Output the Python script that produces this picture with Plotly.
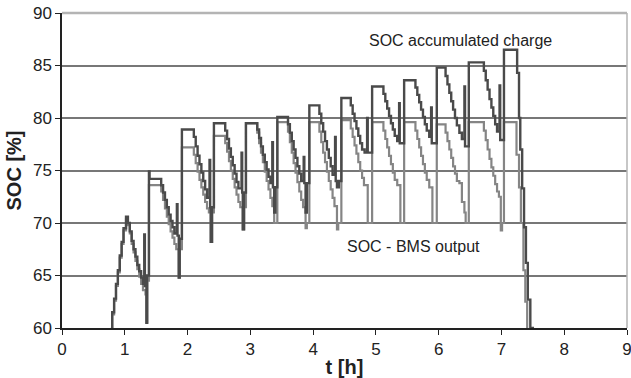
import plotly.graph_objects as go

# ---- data (vertices of stepped lines, 'hv' shape) ----
t_acc = [0.78, 0.80, 0.83, 0.86, 0.89, 0.92, 0.95, 0.98, 1.02,
         1.05, 1.08, 1.11, 1.14, 1.17, 1.20, 1.23, 1.26, 1.29, 1.31, 1.32, 1.345, 1.355,
         1.385, 1.395,
         1.58, 1.61, 1.64, 1.67, 1.70, 1.73, 1.76, 1.79, 1.83, 1.84, 1.86, 1.875,
         1.91,
         2.10, 2.13, 2.16, 2.19, 2.22, 2.25, 2.28, 2.31, 2.35, 2.36, 2.37, 2.39,
         2.42,
         2.60, 2.63, 2.66, 2.69, 2.72, 2.75, 2.78, 2.81, 2.86, 2.87, 2.88, 2.90,
         2.93,
         3.11, 3.14, 3.17, 3.20, 3.23, 3.26, 3.29, 3.32, 3.35, 3.36, 3.38, 3.40,
         3.43,
         3.60, 3.63, 3.66, 3.69, 3.72, 3.75, 3.78, 3.81, 3.85, 3.86, 3.88, 3.90,
         3.94,
         4.10, 4.13, 4.16, 4.19, 4.22, 4.25, 4.28, 4.31, 4.35, 4.36, 4.38, 4.41,
         4.45,
         4.60, 4.63, 4.66, 4.69, 4.72, 4.75, 4.78, 4.82, 4.86, 4.87,
         4.94,
         5.12, 5.15, 5.18, 5.21, 5.24, 5.27, 5.30, 5.34, 5.37, 5.38,
         5.45,
         5.63, 5.66, 5.69, 5.72, 5.75, 5.78, 5.81, 5.85, 5.88, 5.89,
         5.97,
         6.11, 6.14, 6.17, 6.20, 6.23, 6.26, 6.29, 6.33, 6.37, 6.41, 6.42,
         6.48,
         6.72, 6.75, 6.78, 6.81, 6.84, 6.87, 6.90, 6.93, 6.97, 6.98,
         7.04,
         7.22, 7.25, 7.28, 7.30, 7.33, 7.36, 7.39, 7.42, 7.46, 7.50]
soc_acc = [60.0, 61.5, 62.8, 64.2, 65.5, 66.9, 68.2, 69.5, 70.6,
           70.0, 69.2, 68.3, 67.5, 66.8, 66.0, 65.4, 64.8, 64.2, 68.9, 64.0, 60.5, 65.0,
           74.9, 74.2,
           73.6, 72.9, 72.2, 71.5, 70.8, 70.2, 69.6, 69.0, 71.8, 68.8, 64.8, 68.5,
           78.9,
           78.2, 77.3, 76.4, 75.6, 74.8, 74.0, 73.2, 72.4, 76.0, 71.5, 68.2, 71.5,
           79.5,
           78.8, 78.0, 77.1, 76.3, 75.5, 74.7, 73.9, 73.3, 76.7, 72.9, 69.4, 72.9,
           79.5,
           78.9, 78.1, 77.3, 76.5, 75.8, 75.1, 74.4, 73.8, 77.7, 73.4, 71.0, 73.4,
           80.1,
           79.4, 78.6, 77.8, 77.0, 76.2, 75.4, 74.7, 74.0, 76.3, 73.8, 71.0, 73.8,
           81.2,
           80.4, 79.5, 78.7, 77.8, 77.0, 76.2, 75.4, 74.6, 78.2, 74.0, 73.4, 74.0,
           81.9,
           81.2, 80.4, 79.7, 79.0, 78.3, 77.6, 77.0, 76.7, 80.0, 76.7,
           83.0,
           82.3, 81.6, 80.9, 80.2, 79.5, 78.9, 78.3, 77.8, 81.4, 77.6,
           83.6,
           82.9, 82.2, 81.5, 80.8, 80.1, 79.4, 78.8, 78.2, 81.0, 77.6,
           84.8,
           84.0, 83.2, 82.4, 81.6, 80.8, 80.0, 79.3, 78.6, 78.0, 83.0, 77.3,
           85.3,
           84.5, 83.6, 82.7, 81.8, 81.0, 80.2, 79.4, 78.7, 83.1, 77.9,
           86.5,
           86.5, 84.3, 80.0, 77.0, 73.3, 69.6, 66.2, 62.7, 60.0, 58.0]

t_bms = [0.78, 0.80, 0.83, 0.86, 0.89, 0.92, 0.95, 0.98, 1.02,
         1.05, 1.08, 1.11, 1.14, 1.17, 1.20, 1.23, 1.26, 1.29, 1.33, 1.345, 1.36,
         1.385,
         1.58, 1.61, 1.64, 1.67, 1.70, 1.73, 1.76, 1.79, 1.82, 1.86, 1.875,
         1.91,
         2.10, 2.13, 2.16, 2.19, 2.22, 2.25, 2.28, 2.31, 2.34, 2.37, 2.39,
         2.42,
         2.60, 2.63, 2.66, 2.69, 2.72, 2.75, 2.78, 2.81, 2.84, 2.88, 2.90,
         2.93,
         3.11, 3.14, 3.17, 3.20, 3.23, 3.26, 3.29, 3.32, 3.35, 3.38,
         3.43,
         3.60, 3.63, 3.66, 3.69, 3.72, 3.75, 3.78, 3.81, 3.84, 3.88, 3.90,
         3.94,
         4.10, 4.13, 4.16, 4.19, 4.22, 4.25, 4.28, 4.31, 4.34, 4.38, 4.40,
         4.45,
         4.60, 4.63, 4.66, 4.69, 4.72, 4.75, 4.78, 4.81, 4.87,
         4.94,
         5.12, 5.15, 5.18, 5.21, 5.24, 5.27, 5.30, 5.34, 5.39,
         5.45,
         5.63, 5.66, 5.69, 5.72, 5.75, 5.78, 5.81, 5.85, 5.90,
         5.97,
         6.11, 6.14, 6.17, 6.20, 6.23, 6.26, 6.29, 6.33, 6.37, 6.41, 6.43,
         6.48,
         6.72, 6.75, 6.78, 6.81, 6.84, 6.87, 6.90, 6.93, 6.96, 6.99, 7.01,
         7.04,
         7.21, 7.24, 7.28, 7.31, 7.35, 7.38, 7.41, 7.44]
soc_bms = [60.0, 61.3, 62.6, 64.0, 65.3, 66.7, 68.0, 69.3, 70.4,
           69.8, 69.0, 68.0, 67.2, 66.4, 65.6, 64.9, 64.2, 63.6, 63.2, 60.5, 64.5,
           73.6,
           73.0, 72.2, 71.4, 70.6, 69.9, 69.2, 68.6, 68.0, 67.5, 64.8, 67.5,
           77.2,
           76.5, 75.7, 74.9, 74.1, 73.4, 72.7, 72.0, 71.4, 71.0, 68.2, 71.0,
           78.3,
           77.6, 76.8, 75.9, 75.0, 74.2, 73.4, 72.7, 72.0, 71.5, 69.4, 71.5,
           79.5,
           78.6, 77.6, 76.7, 75.8, 74.9, 74.0, 73.2, 72.4, 71.6, 70.0,
           79.6,
           78.7, 77.7, 76.7, 75.7, 74.8, 73.9, 73.0, 72.2, 71.5, 69.5, 70.0,
           79.6,
           78.7, 77.7, 76.7, 75.8, 74.9, 74.0, 73.2, 72.4, 71.6, 69.4, 70.0,
           79.8,
           79.0, 78.2, 77.4, 76.6, 75.8, 75.0, 74.3, 73.6, 70.0,
           79.6,
           78.8, 78.0, 77.2, 76.4, 75.6, 74.8, 74.1, 73.6, 70.0,
           79.6,
           78.8, 78.0, 77.2, 76.4, 75.6, 74.8, 74.1, 73.4, 70.0,
           79.4,
           78.6, 77.8, 77.0, 76.2, 75.4, 74.7, 74.0, 73.8, 72.0, 71.0, 70.0,
           79.6,
           78.8, 77.9, 77.0, 76.1, 75.3, 74.5, 73.7, 73.0, 72.5, 69.3, 70.0,
           79.6,
           79.6, 76.5, 73.4, 70.0, 65.5, 62.5, 59.5, 58.0]

x_ticks = [0, 1, 2, 3, 4, 5, 6, 7, 8, 9]
y_ticks = [60, 65, 70, 75, 80, 85, 90]
labels = ["SOC accumulated charge", "SOC - BMS output"]
label_pos = [(4.86, 87.4), (4.50, 67.8)]

FONT = "Liberation Sans, Arial, sans-serif"

fig = go.Figure()
fig.add_trace(go.Scatter(x=t_bms, y=soc_bms, mode="lines", line_shape="hv",
                         line=dict(color="#858585", width=2.2), name=labels[1]))
fig.add_trace(go.Scatter(x=t_acc, y=soc_acc, mode="lines", line_shape="hv",
                         line=dict(color="#4a4a4a", width=2.4), name=labels[0]))

for txt, (xx, yy) in zip(labels, label_pos):
    fig.add_annotation(x=xx, y=yy, text=txt, showarrow=False, xanchor="left",
                       yanchor="middle", font=dict(family=FONT, size=16, color="#222"))

# light top/right frame
fig.add_shape(type="line", xref="paper", yref="paper", x0=0, x1=1, y0=1, y1=1,
              line=dict(color="#b4b4b4", width=2.5), layer="above")
fig.add_shape(type="line", xref="paper", yref="paper", x0=1, x1=1, y0=0, y1=1,
              line=dict(color="#b4b4b4", width=1.5), layer="above")

fig.update_layout(
    width=631, height=378,
    margin=dict(l=62, r=4, t=13, b=50),
    paper_bgcolor="white", plot_bgcolor="white",
    showlegend=False,
    font=dict(family=FONT, color="#222"),
)
fig.update_xaxes(range=[0, 9], tickvals=x_ticks, showgrid=False, zeroline=False,
                 showline=True, linecolor="#222", linewidth=1.5,
                 ticks="outside", ticklen=5, tickcolor="#222",
                 ticklabeloverflow="allow", automargin=False,
                 tickfont=dict(size=17, family=FONT, color="#222"),
                 title=dict(text="<b>t [h]</b>", font=dict(size=20, family=FONT, color="#222"), standoff=2))
fig.update_yaxes(range=[60, 90], tickvals=y_ticks, showgrid=True, gridcolor="#777777", gridwidth=1.5,
                 zeroline=False, showline=True, linecolor="#222", linewidth=1.5,
                 ticks="outside", ticklen=5, tickcolor="#222", automargin=False,
                 tickfont=dict(size=17, family=FONT, color="#222"),
                 title=dict(text="<b>SOC [%]</b>", font=dict(size=20, family=FONT, color="#222"), standoff=6))

fig.write_html("out.html")
